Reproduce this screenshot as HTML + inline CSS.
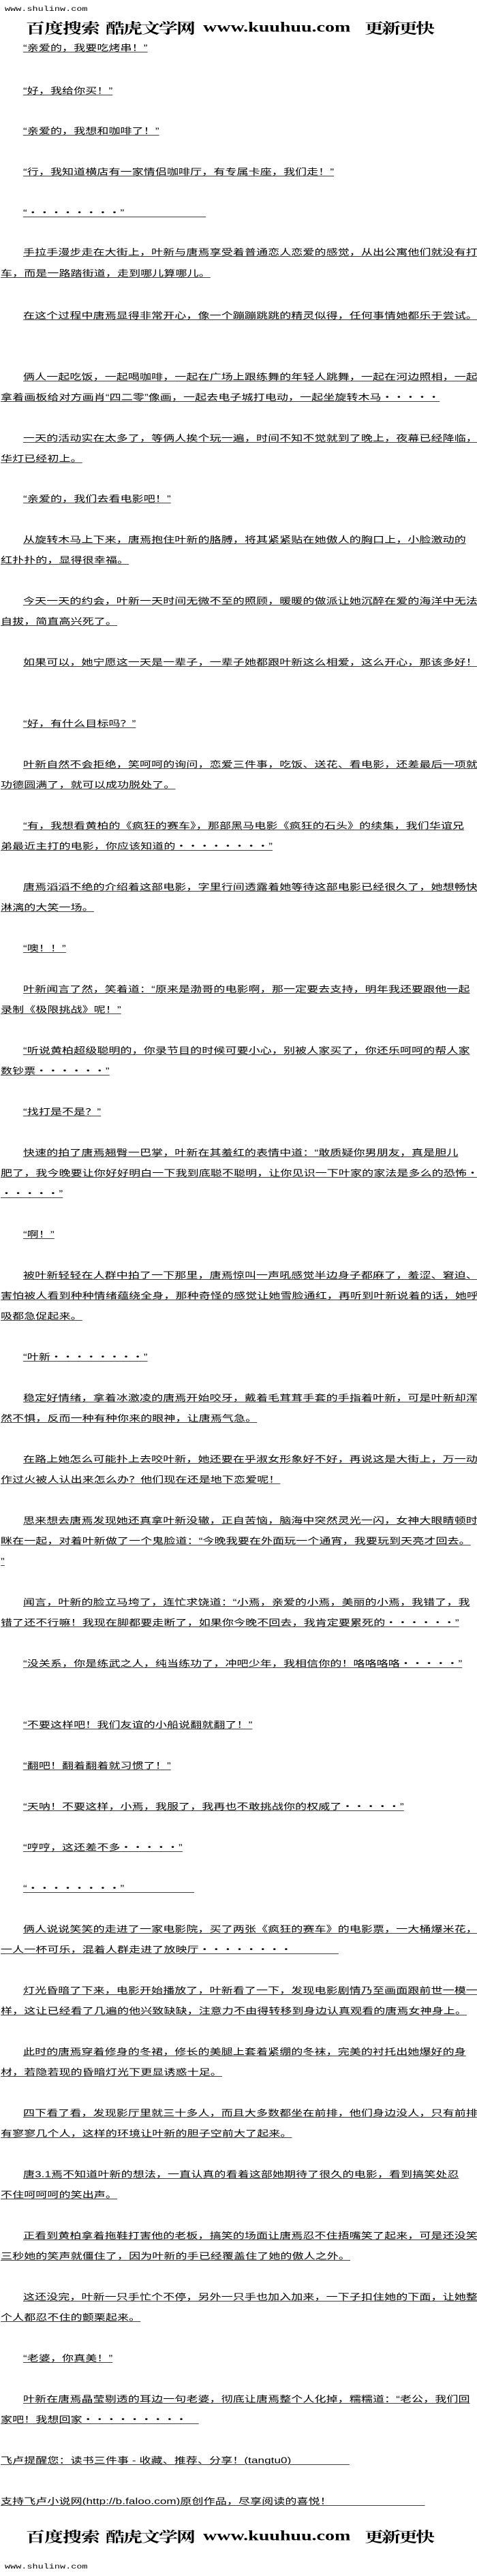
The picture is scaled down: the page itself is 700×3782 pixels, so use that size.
<!DOCTYPE html>
<html><head><meta charset="utf-8">
<style>
html,body{margin:0;padding:0;background:#fff;}
body{width:700px;height:3782px;position:relative;overflow:hidden;}
.l{position:absolute;left:1px;white-space:pre;font-size:17px;line-height:17px;font-family:"Liberation Sans","Noto Sans CJK SC",sans-serif;letter-spacing:0.1px;text-decoration:underline;text-decoration-thickness:1.3px;text-underline-offset:2px;transform:scaleY(.75);transform-origin:0 0;color:#000;}
.i{left:34px;}
.nu{text-decoration:none;}
.url{position:absolute;left:7px;font:13.5px/14px "Liberation Mono",monospace;transform:scaleY(.75);transform-origin:0 0;color:#000;}
.b{position:absolute;transform:scaleY(.75);transform-origin:0 0;color:#000;font-weight:bold;line-height:28px;white-space:nowrap;}
.bc{font-family:"Noto Serif CJK SC","WenQuanYi Zen Hei",serif;font-size:28px;letter-spacing:-1px;}
.bu{font-family:"Liberation Serif",serif;font-size:28px;}
</style></head><body>

<div class="url" style="top:9px">www.shulinw.com</div>
<div class="b bc" style="top:30px;left:38px">百度搜索</div>
<div class="b bc" style="top:30px;left:155px;letter-spacing:-2px">酷虎文学网</div>
<div class="b bu" style="top:30px;left:298px">www.kuuhuu.com</div>
<div class="b bc" style="top:30px;left:535px;letter-spacing:-3px">更新更快</div>

<div class="l i" style="top:64px">“亲爱的，我要吃烤串！”</div>
<div class="l i" style="top:127px">“好，我给你买！”</div>
<div class="l i" style="top:186px">“亲爱的，我想和咖啡了！”</div>
<div class="l i" style="top:246px">“行，我知道横店有一家情侣咖啡厅，有专属卡座，我们走！”</div>
<div class="l i" style="top:306px">“・・・・・・・・”　　　　　　　</div>
<div class="l i" style="top:364px">手拉手漫步走在大街上，叶新与唐焉享受着普通恋人恋爱的感觉，从出公寓他们就没有打</div>
<div class="l" style="top:395px">车，而是一路踏街道，走到哪儿算哪儿。</div>
<div class="l i" style="top:457px">在这个过程中唐焉显得非常开心，像一个蹦蹦跳跳的精灵似得，任何事情她都乐于尝试。</div>
<div class="l i" style="top:547px">俩人一起吃饭，一起喝咖啡，一起在广场上跟练舞的年轻人跳舞，一起在河边照相，一起</div>
<div class="l" style="top:577px">拿着画板给对方画肖“四二零”像画，一起去电子城打电动，一起坐旋转木马・・・・・</div>
<div class="l i" style="top:637px">一天的活动实在太多了，等俩人挨个玩一遍，时间不知不觉就到了晚上，夜幕已经降临，</div>
<div class="l" style="top:667px">华灯已经初上。</div>
<div class="l i" style="top:726px">“亲爱的，我们去看电影吧！”</div>
<div class="l i" style="top:786px">从旋转木马上下来，唐焉抱住叶新的胳膊，将其紧紧贴在她傲人的胸口上，小脸激动的</div>
<div class="l" style="top:816px">红扑扑的，显得很幸福。</div>
<div class="l i" style="top:876px">今天一天的约会，叶新一天时间无微不至的照顾，暖暖的做派让她沉醉在爱的海洋中无法</div>
<div class="l" style="top:906px">自拔，简直高兴死了。</div>
<div class="l i" style="top:966px">如果可以，她宁愿这一天是一辈子，一辈子她都跟叶新这么相爱，这么开心，那该多好！</div>
<div class="l i" style="top:1056px">“好，有什么目标吗？”</div>
<div class="l i" style="top:1116px">叶新自然不会拒绝，笑呵呵的询问，恋爱三件事，吃饭、送花、看电影，还差最后一项就</div>
<div class="l" style="top:1146px">功德圆满了，就可以成功脱处了。</div>
<div class="l i" style="top:1206px">“有，我想看黄柏的《疯狂的赛车》，那部黑马电影《疯狂的石头》的续集，我们华谊兄</div>
<div class="l" style="top:1236px">弟最近主打的电影，你应该知道的・・・・・・・・”</div>
<div class="l i" style="top:1296px">唐焉滔滔不绝的介绍着这部电影，字里行间透露着她等待这部电影已经很久了，她想畅快</div>
<div class="l" style="top:1326px">淋漓的大笑一场。</div>
<div class="l i" style="top:1386px">“噢！！”</div>
<div class="l i" style="top:1446px">叶新闻言了然，笑着道：“原来是渤哥的电影啊，那一定要去支持，明年我还要跟他一起</div>
<div class="l" style="top:1476px">录制《极限挑战》呢！”</div>
<div class="l i" style="top:1536px">“听说黄柏超级聪明的，你录节目的时候可要小心，别被人家买了，你还乐呵呵的帮人家</div>
<div class="l" style="top:1566px">数钞票・・・・・・”</div>
<div class="l i" style="top:1626px">“找打是不是？”</div>
<div class="l i" style="top:1686px">快速的拍了唐焉翘臀一巴掌，叶新在其羞红的表情中道：“敢质疑你男朋友，真是胆儿</div>
<div class="l" style="top:1716px">肥了，我今晚要让你好好明白一下我到底聪不聪明，让你见识一下叶家的家法是多么的恐怖・</div>
<div class="l" style="top:1746px">・・・・・”</div>
<div class="l i" style="top:1806px">“啊！”</div>
<div class="l i" style="top:1866px">被叶新轻轻在人群中拍了一下那里，唐焉惊叫一声吼感觉半边身子都麻了，羞涩、窘迫、</div>
<div class="l" style="top:1896px">害怕被人看到种种情绪蕴绕全身，那种奇怪的感觉让她雪脸通红，再听到叶新说着的话，她呼</div>
<div class="l" style="top:1926px">吸都急促起来。</div>
<div class="l i" style="top:1986px">“叶新・・・・・・・・”</div>
<div class="l i" style="top:2046px">稳定好情绪，拿着冰激凌的唐焉开始咬牙，戴着毛茸茸手套的手指着叶新，可是叶新却浑</div>
<div class="l" style="top:2076px">然不惧，反而一种有种你来的眼神，让唐焉气急。</div>
<div class="l i" style="top:2136px">在路上她怎么可能扑上去咬叶新，她还要在乎淑女形象好不好，再说这是大街上，万一动</div>
<div class="l" style="top:2166px">作过火被人认出来怎么办？他们现在还是地下恋爱呢！</div>
<div class="l i" style="top:2226px">思来想去唐焉发现她还真拿叶新没辙，正自苦恼，脑海中突然灵光一闪，女神大眼睛顿时</div>
<div class="l" style="top:2256px">眯在一起，对着叶新做了一个鬼脸道：“今晚我要在外面玩一个通宵，我要玩到天亮才回去。</div>
<div class="l" style="top:2286px">”</div>
<div class="l i" style="top:2346px">闻言，叶新的脸立马垮了，连忙求饶道：“小焉，亲爱的小焉，美丽的小焉，我错了，我</div>
<div class="l" style="top:2376px">错了还不行嘛！我现在脚都要走断了，如果你今晚不回去，我肯定要累死的・・・・・・”</div>
<div class="l i" style="top:2436px">“没关系，你是练武之人，纯当练功了，冲吧少年，我相信你的！咯咯咯咯・・・・・”</div>
<div class="l i" style="top:2526px">“不要这样吧！我们友谊的小船说翻就翻了！”</div>
<div class="l i" style="top:2586px">“翻吧！翻着翻着就习惯了！”</div>
<div class="l i" style="top:2646px">“天呐！不要这样，小焉，我服了，我再也不敢挑战你的权威了・・・・・”</div>
<div class="l i" style="top:2706px">“哼哼，这还差不多・・・・・”</div>
<div class="l i" style="top:2766px">“・・・・・・・・”　　　　　　</div>
<div class="l i" style="top:2826px">俩人说说笑笑的走进了一家电影院，买了两张《疯狂的赛车》的电影票，一大桶爆米花，</div>
<div class="l" style="top:2856px">一人一杯可乐，混着人群走进了放映厅・・・・・・・・　　　　</div>
<div class="l i" style="top:2916px">灯光昏暗了下来，电影开始播放了，叶新看了一下，发现电影剧情乃至画面跟前世一模一</div>
<div class="l" style="top:2946px">样，这让已经看了几遍的他兴致缺缺，注意力不由得转移到身边认真观看的唐焉女神身上。</div>
<div class="l i" style="top:3006px">此时的唐焉穿着修身的冬裙，修长的美腿上套着紧绷的冬袜，完美的衬托出她爆好的身</div>
<div class="l" style="top:3036px">材，若隐若现的昏暗灯光下更显诱惑十足。</div>
<div class="l i" style="top:3096px">四下看了看，发现影厅里就三十多人，而且大多数都坐在前排，他们身边没人，只有前排</div>
<div class="l" style="top:3126px">有寥寥几个人，这样的环境让叶新的胆子空前大了起来。</div>
<div class="l i" style="top:3186px">唐3.1焉不知道叶新的想法，一直认真的看着这部她期待了很久的电影，看到搞笑处忍</div>
<div class="l" style="top:3216px">不住呵呵呵的笑出声。</div>
<div class="l i" style="top:3276px">正看到黄柏拿着拖鞋打害他的老板，搞笑的场面让唐焉忍不住捂嘴笑了起来，可是还没笑</div>
<div class="l" style="top:3306px">三秒她的笑声就僵住了，因为叶新的手已经覆盖住了她的傲人之外。</div>
<div class="l i" style="top:3366px">这还没完，叶新一只手忙个不停，另外一只手也加入加来，一下子扣住她的下面，让她整</div>
<div class="l" style="top:3396px">个人都忍不住的颤栗起来。</div>
<div class="l i" style="top:3456px">“老婆，你真美！”</div>
<div class="l i" style="top:3516px">叶新在唐焉晶莹剔透的耳边一句老婆，彻底让唐焉整个人化掉，糯糯道：“老公，我们回</div>
<div class="l" style="top:3546px">家吧！我想回家・・・・・・・・・　</div>
<div class="l" style="top:3606px">飞卢提醒您：读书三件事 - 收藏、推荐、分享！(tangtu0)　　　　　</div>
<div class="l" style="top:3666px">支持飞卢小说网(http://b.faloo.com)原创作品，尽享阅读的喜悦！　　　　　　　　</div>

<div class="b bc" style="top:3713px;left:38px">百度搜索</div>
<div class="b bc" style="top:3713px;left:155px;letter-spacing:-2px">酷虎文学网</div>
<div class="b bu" style="top:3713px;left:298px">www.kuuhuu.com</div>
<div class="b bc" style="top:3713px;left:535px;letter-spacing:-3px">更新更快</div>
<div class="url" style="top:3764px">www.shulinw.com</div>
</body></html>
